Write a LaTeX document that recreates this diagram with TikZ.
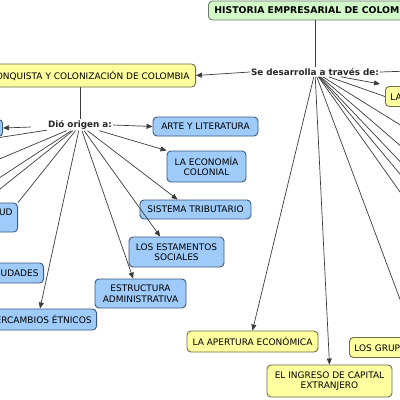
\documentclass[tikz,border=0pt]{standalone}
\usepackage{fontspec}
\setmainfont{DejaVu Sans}
\usetikzlibrary{arrows.meta,calc}
\definecolor{cblue}{RGB}{158,203,250}
\definecolor{cblueb}{RGB}{60,90,125}
\definecolor{cyel}{RGB}{255,255,160}
\definecolor{cyelb}{RGB}{110,110,70}
\definecolor{cgreen}{RGB}{210,250,200}
\definecolor{cgreenb}{RGB}{110,120,110}
\definecolor{cline}{RGB}{60,60,60}
\begin{document}
\begin{tikzpicture}[x=1pt,y=-1pt,
  concept/.style={draw, rounded corners=4pt, line width=0.9pt, font=\fontsize{9}{10.5}\selectfont, align=center, inner xsep=3pt, inner ysep=2pt},
  bbox/.style={concept, fill=cblue, draw=cblueb},
  ybox/.style={concept, fill=cyel, draw=cyelb},
  gbox/.style={concept, fill=cgreen, draw=cgreenb, font=\bfseries\fontsize{9.3}{10.5}\selectfont},
  link/.style={font=\bfseries\fontsize{8.8}{10}\selectfont, inner sep=1pt, text=black!85},
  conn/.style={draw=cline, line width=0.7pt},
  arr/.style={conn, -{Triangle[length=6pt,width=5pt]}}]
\useasboundingbox (0,0) rectangle (400,400);
\clip (0,0) rectangle (400,400);
\fill[white] (0,0) rectangle (400,400);

% off-screen ends
\coordinate (r0) at (410,71);
\coordinate (r1) at (410,131);
\coordinate (r2) at (410,154);
\coordinate (r3) at (410,172);
\coordinate (r4) at (410,186);
\coordinate (r5) at (410,206);
\coordinate (r6) at (410,326);
\coordinate (l1) at (-10,139);
\coordinate (l2) at (-10,163);
\coordinate (l3) at (-10,184);
\coordinate (l4) at (-10,197);
\coordinate (l5) at (-10,248);
\coordinate (laarr) at (380,84);

% links
\node[link] (sd) at (315,72) {Se desarrolla a través de:};
\node[link] (dio) at (80,125) {Dió origen a:};

% connectors (drawn first, nodes on top)
\draw[conn] (sd) -- (r1);
\draw[conn] (sd) -- (r2);
\draw[conn] (sd) -- (r3);
\draw[conn] (sd) -- (r4);
\draw[conn] (sd) -- (r5);
\draw[conn] (sd) -- (r6);
\draw[conn] (sd.east) -- (r0);
\draw[conn] (dio) -- (l1);
\draw[conn] (dio) -- (l2);
\draw[conn] (dio) -- (l3);
\draw[conn] (dio) -- (l4);

% concepts
\node[gbox, anchor=west, minimum height=19pt, inner xsep=6pt] (hist) at (208,10.5) {HISTORIA EMPRESARIAL DE COLOMBIA};
\node[ybox, anchor=east, minimum height=23pt, inner xsep=6pt] (conq) at (196,75.5) {CONQUISTA Y COLONIZACIÓN DE COLOMBIA};

\node[bbox, minimum width=105pt, minimum height=19pt] (arte) at (205.5,126.5) {ARTE Y LITERATURA};
\node[bbox, minimum width=79pt, minimum height=31pt] (econ) at (206.5,166.5) {LA ECONOMÍA\\COLONIAL};
\node[bbox, minimum width=111pt, minimum height=19pt] (sist) at (195.5,209.5) {SISTEMA TRIBUTARIO};
\node[bbox, minimum width=95pt, minimum height=30pt] (estam) at (176.5,252) {LOS ESTAMENTOS\\SOCIALES};
\node[bbox, minimum width=91pt, minimum height=29pt] (estr) at (140.5,293.5) {ESTRUCTURA\\ADMINISTRATIVA};
\node[bbox, anchor=east, minimum height=21pt, inner xsep=5pt] (inter) at (97,319.5) {INTERCAMBIOS ÉTNICOS};
\node[bbox, anchor=east, minimum height=20pt, inner xsep=5pt] (ciud) at (44,273) {CIUDADES};
\node[bbox, anchor=east, minimum height=29pt, inner xsep=5pt] (esc) at (18,217.5) {ESCLAVITUD\\\mbox{}};
\node[bbox, anchor=east, minimum height=17pt, minimum width=40pt] (lb) at (3,128) {};

\node[ybox, minimum width=131pt, minimum height=21pt] (aper) at (252.5,341.5) {LA APERTURA ECONÓMICA};
\node[ybox, minimum width=125pt, minimum height=32pt] (ingr) at (329.5,381) {EL INGRESO DE CAPITAL\\EXTRANJERO};
\node[ybox, anchor=west, minimum height=20pt, inner xsep=5pt] (grup) at (349,347.5) {LOS GRUPOS ECONÓMICOS};
\node[ybox, anchor=west, minimum height=20pt, inner xsep=5pt] (lax) at (385,96.5) {LA INDUSTRIALIZACIÓN};

% connectors with arrows
\draw[conn] (sd |- hist.south) -- (sd.north);
\draw[conn] (dio |- conq.south) -- (dio.north);
\draw[arr] (sd.west) -- (conq.east);
\draw[arr] (sd) -- (laarr);
\draw[conn] (sd) -- (lax.west);
\draw[arr] (sd) -- (aper.north);
\draw[arr] (sd) -- (ingr.north);
\draw[arr] (dio.west) ++(-16,2) -- (lb.east);
\draw[arr] (dio.east) -- (arte.west);
\draw[arr] (dio) -- (econ.north west);
\draw[arr] (dio) -- ($(sist.north west)!0.34!(sist.north east)$);
\draw[arr] (dio) -- ($(estam.north west)!0.33!(estam.north east)$);
\draw[arr] (dio) -- ($(estr.north west)!0.42!(estr.north east)$);
\draw[arr] (dio) -- ($(inter.north east)+(-57,0)$);
\draw[conn] (dio) -- (esc.north east);
\draw[conn] (esc.south) ++(5,0) -- (l5);
\end{tikzpicture}
\end{document}
